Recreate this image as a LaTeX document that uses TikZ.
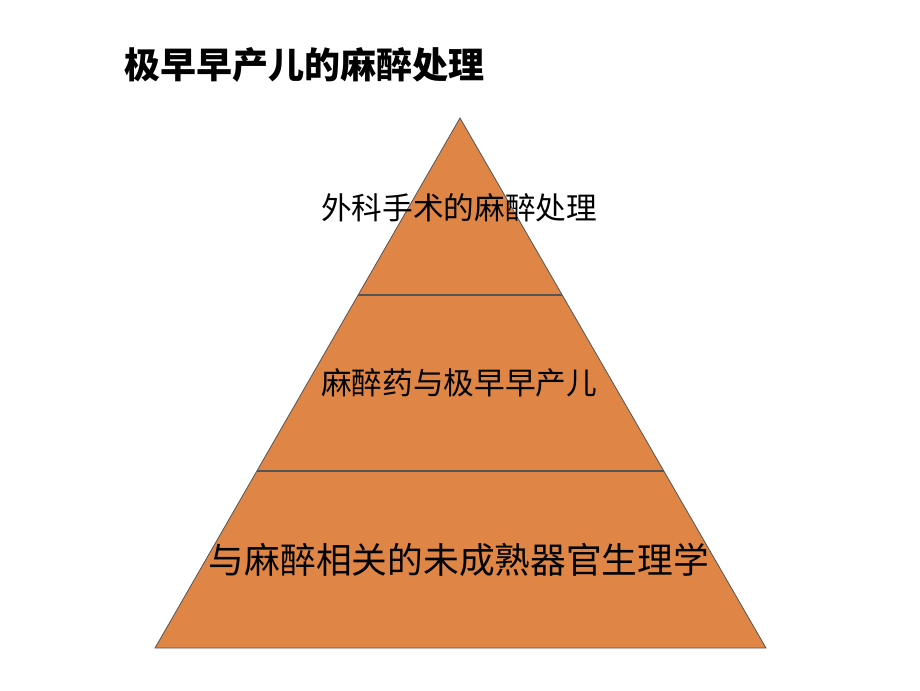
\documentclass[tikz,border=0pt]{standalone}
\usepackage{fontspec}
\usetikzlibrary{calc}
\newfontfamily\cjk{Noto Sans CJK SC}
\definecolor{pyramidfill}{HTML}{DF8546}
\definecolor{pyramidline}{HTML}{555555}
\tikzset{
  layerlabel/.style={font=\cjk\fontsize{23}{27}\selectfont, inner sep=0pt},
  baselabel/.style={font=\cjk\fontsize{26.8}{31}\selectfont, inner sep=0pt},
  titlelabel/.style={font=\cjk\bfseries\fontsize{27}{31}\selectfont, anchor=west, inner sep=0pt}
}
\begin{document}
\begin{tikzpicture}[x=0.75pt, y=-0.75pt]
  \useasboundingbox (0,0) rectangle (920,690);
  % Title
  \node[titlelabel] (title) at (124,65) {极早早产儿的麻醉处理};

  % Pyramid corners
  \coordinate (apex) at (460,118);
  \coordinate (baseL) at (155,648);
  \coordinate (baseR) at (766,648);
  \coordinate (midL) at ($(apex)!0.334!(baseL)$);
  \coordinate (midR) at ($(apex)!0.334!(baseR)$);
  \coordinate (lowL) at ($(apex)!0.666!(baseL)$);
  \coordinate (lowR) at ($(apex)!0.666!(baseR)$);

  \filldraw[fill=pyramidfill, draw=pyramidline, line width=0.6pt] (apex) -- (baseR) -- (baseL) -- cycle;
  \draw[pyramidline, line width=1pt] (midL) -- (midR);
  \draw[pyramidline, line width=1pt] (lowL) -- (lowR);

  % Layer labels
  \node[layerlabel] (top) at (459,208) {外科手术的麻醉处理};
  \node[layerlabel] (middle) at (459,383) {麻醉药与极早早产儿};
  \node[baselabel] (bottom) at (459,560) {与麻醉相关的未成熟器官生理学};
\end{tikzpicture}
\end{document}
